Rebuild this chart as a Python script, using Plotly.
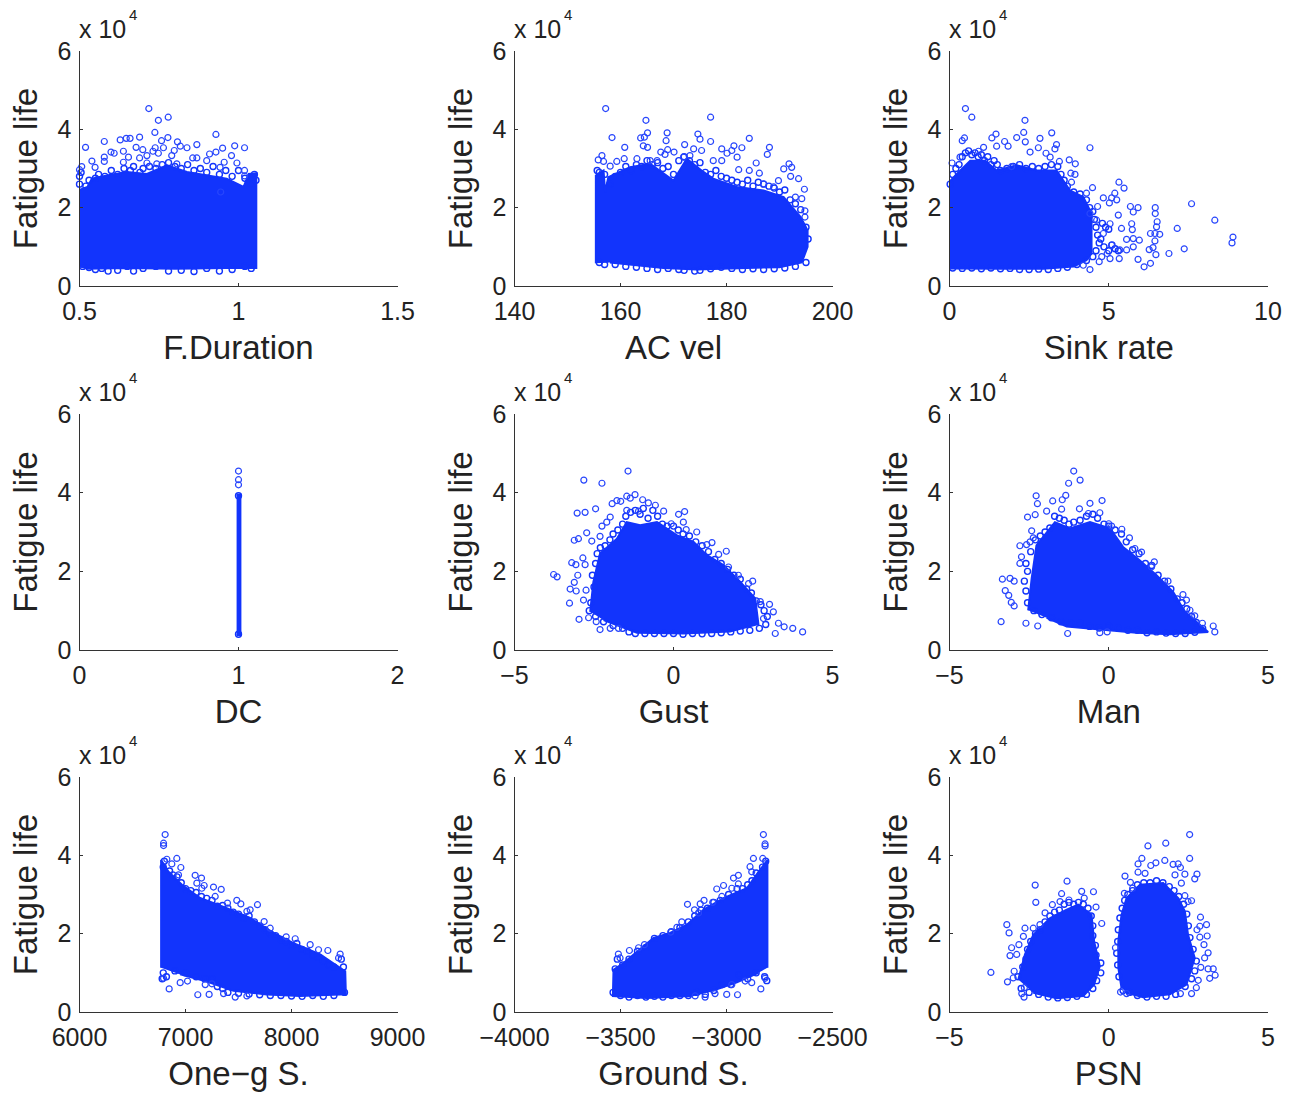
import plotly.graph_objects as go

# The *_x / *_y lists are the markers that can be told apart, and the *_rim lists
# are estimated markers along the edge of each cloud. The *_core lists trace the
# outline of the area where markers overlap into solid colour.

BLUE = "rgb(18,52,252)"
INK = "#222222"
FONT = "Liberation Sans, Arial, sans-serif"

xlabels = ["F.Duration", "AC vel", "Sink rate", "DC", "Gust", "Man", "One\u2212g S.", "Ground S.", "PSN"]
y_ticks = [0, 2, 4, 6]
x_tick_values = [[0.5, 1, 1.5], [140, 160, 180, 200], [0, 5, 10], [0, 1, 2], [-5, 0, 5], [-5, 0, 5],
                 [6000, 7000, 8000, 9000], [-4000, -3500, -3000, -2500], [-5, 0, 5]]

dur_x = [.718,.748,.779,.929,.737,.519,.578,.628,.647,.659,.689,.778,.808,.758,.678,.699,.638,.599,.609,.869,.838,.817,.764,.738,.712,.731,.748,.79,.798,.95,.988,1.019,.978,.929,.909,.856,.869,.9,.539,.578,.578,.549,.507,.5,.654,.638,.689,.712,.743,.806,.955,.995,.942,1.019,1.019,.944]
dur_y = [4.53,4.23,4.31,3.87,3.92,3.54,3.69,3.73,3.77,3.77,3.8,3.79,3.68,3.71,3.54,3.48,3.44,3.42,3.39,3.61,3.53,3.57,3.53,3.53,3.33,3.44,3.39,3.33,3.46,3.52,3.58,3.53,3.33,3.42,3.37,3.27,3.27,3.2,3.19,3.29,3.18,3.03,3.05,2.97,3.29,3.16,3.27,3.14,3.12,3.12,3.16,3.14,3.03,2.95,2.81,2.4]
dur_rim_x = [.5,.5,.505,.52,.53,.55,.56,.58,.6,.62,.64,.66,.67,.69,.7,.72,.74,.76,.78,.8,.82,.84,.86,.88,.9,.92,.94,.96,.98,1.0,1.02,1.04,1.05,1.055,.51,.53,.55,.57,.59,.62,.65,.67,.7,.74,.78,.82,.86,.9,.94,.98,1.02,1.04]
dur_rim_y = [2.6,2.8,2.9,2.55,2.7,2.75,2.85,2.8,2.95,2.85,3.0,2.95,3.05,2.9,3.0,3.05,3.0,3.1,3.15,3.05,3.0,3.1,2.95,3.0,2.9,3.05,2.85,2.95,2.8,2.95,2.75,2.6,2.85,2.7,.5,.47,.42,.45,.38,.4,.5,.38,.45,.5,.38,.4,.37,.45,.38,.42,.5,.45]
dur_core_x = [.495,.495,.525,.539,.586,.649,.712,.775,.838,.9,.963,1.016,1.032,1.056,1.056,.96,.8,.65,.52]
dur_core_y = [.48,2.44,2.53,2.74,2.82,2.91,2.86,3.08,2.91,2.82,2.74,2.53,2.86,2.88,.46,.46,.44,.46,.44]

vel_x = [157.2,164.8,177,165.1,163.8,164.5,158.4,168.8,168.6,174.6,175,177,184.3,160.8,164.3,165.1,172.1,181.4,182.9,188.1,187.7,179.1,181,180.1,182,173.8,175.3,173.1,168.9,170.1,167.6,168.4,156.5,155.8,156.8,158.05,159.3,160.7,163.1,165.6,166.9,171.9,177.5,179.1,182.3,185.6,184.3,186.2,190.8,191.8,192.3,192.1,193.6,189.8,194.7,193,194.2,194.8,194.8,187,188.9]
vel_y = [4.53,4.23,4.31,3.91,3.78,3.8,3.79,3.91,3.71,3.88,3.75,3.69,3.77,3.54,3.58,3.54,3.61,3.58,3.53,3.54,3.36,3.5,3.46,3.39,3.29,3.5,3.46,3.33,3.48,3.42,3.42,3.36,3.33,3.22,3.18,3.06,3.18,3.25,3.25,3.2,3.2,3.29,3.2,3.2,2.97,3.14,2.95,2.88,2.99,3.12,3.03,2.8,2.74,2.69,2.47,2.27,2.23,1.92,1.76,2.61,2.53]
vel_rim_x = [155.6,156,157,158,159,160,161,162,163,164,165,166,167,168,169,170,171,172,173,174,175,176,177,178,179,180,181,182,183,184,185,186,187,188,189,190,191,192,193,194,195,195.4,156,157,159,161,163,165,167,169,171,172,174,175,177,179,181,183,185,187,189,191,193,195]
vel_rim_y = [2.95,2.9,2.85,2.6,2.8,2.9,3.05,2.95,3.1,3.05,3.2,3.1,3.15,3.0,3.05,2.85,3.2,3.3,3.2,3.1,3.15,2.9,2.85,2.95,2.8,2.75,2.7,2.65,2.6,2.7,2.55,2.65,2.6,2.55,2.5,2.4,2.45,2.2,2.1,1.95,1.5,1.2,.6,.55,.55,.5,.48,.45,.42,.45,.42,.4,.38,.4,.44,.48,.45,.42,.44,.42,.44,.46,.5,.6]
vel_core_x = [155.35,155.35,156.8,157.1,157.7,161.8,165.6,170,172.5,175.3,177.5,182,187,190.8,191.8,194,195.3,195.3,194.2,190,183.8,174.4,168.1,161.8,158]
vel_core_y = [.58,2.82,2.95,2.4,2.78,3.03,3.12,2.69,3.25,2.95,2.74,2.53,2.44,2.27,2.1,1.76,1.42,1,.6,.48,.46,.42,.46,.54,.6]

sink_x = [.5,.7,2.37,3.21,2.33,2.11,1.46,1.33,.47,.4,2.84,1.73,2.38,1.84,1.48,3.36,3.31,4.41,2.79,2.53,3.03,3.16,3.45,3.76,3.95,3.81,3.94,3.83,1.07,.91,.08,.33,1.95,5.32,5.48,7.6,5.19,4.49,4.3,4.83,5.09,5.25,5.02,4.65,5.68,5.92,5.77,6.46,6.46,5.3,5.72,5.74,6.52,6.5,8.33,7.15,6.31,6.6,6.45,8.9,8.87,6.45,7.37,6.39,6.27,6.89,6.48,5.92,6.31,6.11,5.33,5.77,5.56,5.96,5.77,5.56,5.35,5.09,4.95,4.7,4.41,4.2,4.83,5.04,5.4,4.78,5.04,4.62,4.41]
sink_y = [4.53,4.31,4.23,3.91,3.92,3.79,3.88,3.78,3.78,3.71,3.77,3.69,3.68,3.57,3.57,3.61,3.5,3.53,3.53,3.42,3.39,3.29,3.18,3.22,3.12,2.88,2.85,2.65,3.54,3.44,3.14,3.29,3.05,2.65,2.5,2.1,2.37,2.51,2.37,2.25,2.25,2.2,2.12,2.03,2.03,2,1.89,2,1.85,1.81,1.59,1.44,1.64,1.51,1.68,1.47,1.34,1.32,1.34,1.25,1.1,1.15,.95,.98,.93,.83,.8,.68,.58,.49,.7,1.21,1.19,1.17,1,.92,.92,1.04,.83,.62,.42,.53,1.34,1.59,1.47,.75,.7,1.68,1.85]
sink_rim_x = [.02,.1,.2,.3,.4,.5,.6,.7,.8,.9,1,1.1,1.2,1.3,1.4,1.5,1.6,1.8,2,2.2,2.4,2.6,2.8,3,3.2,3.4,3.5,3.6,3.7,3.9,4.1,4.3,4.4,4.5,4.55,4.6,4.65,4.7,4.6,4.5,4.3,4,3.7,3.4,3.1,2.8,2.5,2.2,1.9,1.6,1.3,1,.7,.4,.1,4.8,4.9,5,4.75,4.85,5.1,5.2,5.3,5]
sink_rim_y = [2.6,2.85,3,3.1,3.3,3.4,3.45,3.35,3.4,3.3,3.35,3.2,3.3,3.1,3.2,3.1,2.95,3,3.05,3.1,3,3.05,3,3.05,3.1,3.05,2.85,2.7,2.55,2.4,2.35,2.2,2,1.9,1.7,1.5,1.3,1.1,.9,.75,.65,.55,.48,.45,.42,.43,.42,.42,.45,.44,.46,.44,.46,.45,.46,1.6,1.5,1.45,1.2,1,1.05,.95,.9,.9]
sink_core_x = [-.06,-.06,.23,.65,1.12,1.48,2.11,2.74,3.36,3.78,4.2,4.46,4.46,4.3,3.9,2.95,1.69,.02]
sink_core_y = [.5,2.61,2.86,3.2,3.2,2.95,3.08,2.95,2.95,2.44,2.27,1.85,.83,.66,.5,.44,.44,.45]

dc_x = [1, 1, 1]
dc_y = [4.55, 4.33, 4.2]
dc_rim_x = [1, 1]
dc_rim_y = [3.92, .4]
dc_core_x = [.988, 1.012, 1.012, .988]
dc_core_y = [.38, .38, 3.95, 3.95]

gust_x = [-1.43,-2.82,-2.25,-3.03,-2.78,-2.45,-1.47,-1.21,-1.36,-.97,-.79,-.57,-1.66,-1.93,-1.78,-.31,.16,.35,-1.47,-1.1,-1.99,-2.1,-2.25,-2.73,-2.99,-3.12,-2.57,-2.31,.73,.4,.31,-.07,1.21,1.05,1.66,1.42,1.73,2.04,2.49,2.36,-3.2,-3.07,-2.85,-2.78,-3.77,-3.66,-3.01,-3.12,-3.25,-3.06,-2.75,-2.83,-3.27,-2.97,-2.67,-2.43,-2.31,-1.99,-1.73,3.02,2.73,3.14,3.3,3.48,3.75,4.06,3.2,2.83]
gust_y = [4.55,4.32,4.24,3.48,3.5,3.59,3.91,3.95,3.86,3.82,3.74,3.68,3.78,3.72,3.8,3.53,3.45,3.52,3.55,3.53,3.38,3.25,3.15,2.98,2.83,2.79,2.77,2.89,3,3.06,3.25,3.21,2.73,2.68,2.51,2.43,2.11,1.9,1.75,1.69,2.22,2.17,2.34,2.17,1.92,1.86,1.9,1.72,1.55,1.5,1.52,1.27,1.19,.78,.82,.72,.52,.55,.55,1.16,1.23,.97,.68,.59,.55,.46,.42,.8]
gust_rim_x = [-2.6,-2.5,-2.55,-2.45,-2.4,-2.3,-2.15,-2,-1.9,-1.75,-1.6,-1.5,-1.35,-1.2,-1.05,-.95,-.8,-.65,-.5,-.35,-.2,0,.15,.3,.5,.7,.9,1.1,1.3,1.5,1.7,1.9,2.1,2.3,2.45,2.6,2.75,2.85,2.95,2.9,2.7,2.4,2.1,1.8,1.5,1.2,.9,.6,.3,0,-.3,-.6,-.9,-1.2,-1.4,-1.6,-1.9,-2.2,-2.45,-2.65]
gust_rim_y = [1.2,1.6,1.9,2.2,2.45,2.6,2.65,2.8,2.95,3.05,3.2,3.4,3.5,3.55,3.45,3.6,3.35,3.55,3.4,3.2,3.15,3.15,3.05,2.95,2.9,2.75,2.65,2.5,2.3,2.2,2.05,1.9,1.8,1.55,1.45,1.25,1.15,1,.85,.65,.55,.5,.48,.46,.44,.42,.41,.42,.4,.42,.42,.42,.42,.42,.46,.55,.62,.72,.85,1]
gust_core_x = [-2.62,-2.52,-2.31,-1.78,-1.47,-1.05,-.52,.1,.63,1.05,1.57,2.1,2.57,2.67,1.78,.31,-1.15,-1.68,-2.2]
gust_core_y = [.97,1.73,2.45,2.83,3.25,3.17,3.25,2.92,2.75,2.41,2.16,1.73,1.31,.66,.47,.42,.44,.6,.76]

man_x = [-1.1,-1.26,-.9,-2.28,-1.35,-1.46,-1.76,-2.24,-.59,-.21,-.92,-.28,-2.31,-2.55,-1.95,-1.48,-.64,-2.42,-2.37,-2.79,-2.58,-2.47,-2.74,-2.79,-3.34,-3.1,-2.97,-3.25,-3.14,-3.06,-2.97,-3.38,-2.6,-2.23,-1.29,-.28,-.05,.41,.65,0,.09,.82,1.03,1.43,1.34,1.86,2.33,2.44,2.7,2.94,3.28,3.33,2.55]
man_y = [4.55,4.24,4.32,3.92,3.93,3.82,3.79,3.72,3.73,3.8,3.59,3.49,3.44,3.38,3.53,3.58,3.47,3.03,2.85,2.65,2.68,2.75,2.37,2.2,1.8,1.82,1.75,1.51,1.39,1.21,1.12,.72,.68,.61,.42,.44,.46,3.07,2.85,3.21,3.15,2.58,2.49,2.24,2.11,1.75,1.41,1.27,.87,.68,.61,.46,1.01]
man_rim_x = [-2.55,-2.6,-2.65,-2.55,-2.6,-2.45,-2.3,-2.15,-2,-1.85,-1.7,-1.55,-1.4,-1.25,-1.1,-.9,-.7,-.5,-.35,-.15,0,.2,.4,.55,.75,.95,1.15,1.35,1.55,1.75,1.95,2.15,2.3,2.45,2.6,2.75,2.95,2.7,2.4,2.1,1.8,1.5,1.2,.9,.6,.3,0,-.3,-.6,-.9,-1.2,-1.5,-1.8,-2.1,-2.35]
man_rim_y = [1.2,1.5,1.75,2,2.2,2.5,2.8,2.9,3,3.1,3.4,3.35,3.3,3.2,3.25,3.3,3.4,3.45,3.35,3.2,3.15,3.05,2.95,2.75,2.55,2.45,2.2,2.15,1.9,1.75,1.55,1.3,1.2,1.05,.85,.7,.55,.45,.42,.42,.43,.46,.44,.5,.5,.56,.6,.56,.6,.68,.68,.72,.82,.9,1]
man_core_x = [-2.53,-2.42,-2.27,-1.69,-1.22,-.59,.04,.45,.97,1.5,2.02,2.39,3.12,1.92,.87,-.38,-1.32,-1.95]
man_core_y = [1.01,1.82,2.66,3.25,3.09,3.25,3.09,2.62,2.28,1.9,1.48,.97,.46,.4,.44,.54,.6,.82]

oneg_x = [6808,6793,6793,6918,6871,6824,6956,6934,7091,7151,7107,7176,7264,7337,7154,7280,7484,7396,7522,7679,7610,7579,7742,7799,7950,8035,8176,8255,8343,8459,8444,6846,6793,6950,7019,7116,7223,7186,7249,7359,7469,7579]
oneg_y = [4.53,4.31,4.25,3.92,3.78,3.9,3.69,3.5,3.49,3.42,3.29,3.23,3.19,3.13,3.16,2.95,2.85,2.78,2.76,2.74,2.61,2.57,2.31,2.14,1.92,1.87,1.72,1.59,1.57,1.48,1.38,.59,.86,.75,.79,.44,.45,.7,.72,.47,.38,.41]
oneg_rim_x = [6790,6800,6850,6880,6920,6960,7000,7050,7100,7150,7200,7250,7300,7350,7400,7450,7500,7550,7600,7650,7700,7750,7800,7850,7900,7950,8000,8050,8100,8150,8200,8250,8300,8350,8400,8470,8490,8500,8400,8300,8200,8100,8000,7900,7800,7700,7600,7500,7400,7350,7300,7250,7180,7100,7000,6900,6820,6790,6780]
oneg_rim_y = [3.7,3.85,3.6,3.5,3.45,3.3,3.15,3.1,3.05,2.95,2.9,2.85,2.7,2.72,2.65,2.55,2.5,2.4,2.45,2.3,2.2,2.1,2,1.95,1.85,1.8,1.7,1.75,1.6,1.55,1.45,1.4,1.3,1.2,1.15,1.35,1.15,.5,.42,.4,.42,.4,.41,.42,.42,.44,.46,.48,.5,.6,.65,.85,.85,.9,1,1.05,.9,1,.85]
oneg_core_x = [6770,6770,6840,6966,7138,7390,7610,7830,8019,8271,8412,8507,8513,8082,7767,7453,7201,6950]
oneg_core_y = [1.13,3.88,3.58,3.25,2.91,2.65,2.4,2.02,1.76,1.47,1.21,1.04,.45,.41,.45,.54,.78,.96]

ground_x = [-2826,-2818,-2818,-2873,-2829,-2889,-2881,-2944,-2967,-2944,-3014,-3046,-2975,-3022,-3106,-3065,-3124,-3184,-3151,-3132,-3211,-3234,-3263,-3387,-3415,-3458,-3510,-3502,-2838,-2818,-2881,-2912,-2948,-2999,-2975,-3054,-3101,-3148]
ground_y = [4.53,4.29,4.24,3.92,3.92,3.71,3.58,3.49,3.42,3.27,3.23,3.14,3.16,2.95,2.85,2.8,2.76,2.75,2.61,2.53,2.3,2.16,2.04,1.72,1.64,1.57,1.48,1.38,.59,.86,.75,.79,.44,.45,.7,.47,.38,.41]
ground_rim_x = [-2815,-2830,-2860,-2880,-2900,-2925,-2950,-2990,-3030,-3060,-3090,-3120,-3150,-3180,-3220,-3260,-3300,-3340,-3380,-3420,-3460,-3490,-3515,-3525,-3535,-3500,-3460,-3420,-3380,-3340,-3300,-3260,-3220,-3180,-3140,-3100,-3060,-3020,-2980,-2940,-2900,-2860,-2820,-2810]
ground_rim_y = [3.85,3.7,3.55,3.35,3.25,3.15,3.15,3,2.85,2.8,2.65,2.6,2.45,2.3,2.15,2.05,1.95,1.88,1.65,1.55,1.35,1.2,1.35,1.1,.5,.42,.38,.42,.38,.4,.38,.42,.42,.42,.5,.45,.55,.7,.7,.95,.85,1,.9,.8]
ground_core_x = [-2807,-2807,-2849,-2904,-3014,-3109,-3187,-3266,-3344,-3455,-3486,-3533,-3536,-3376,-3172,-3046,-2951,-2849]
ground_core_y = [1.13,3.88,3.58,3.16,2.91,2.61,2.23,2.02,1.89,1.38,1.25,1.08,.41,.36,.41,.58,.76,1]

psn_x = [-3.7,-3.2,-3.13,-3.18,-2.31,-2.29,-1.31,-1.48,-.85,-.48,-.77,-.4,-.22,-1.77,-2,-2.16,-2.37,-2.63,-2.68,-2.82,-3.05,-3.1,-2.89,-2.97,-3,-2.65,-2.73,-2.66,-1.25,-1.53,
         2.54,1.79,1.23,2.54,1.04,1.76,.92,1.32,1.48,2.02,2.18,2.25,.92,1.14,.51,2.77,2.7,2.39,2.08,.68,.75,.49,2.28,2.39,2.6,2.49,2.88,3.07,2.86,2.77,2.86,3.09,2.99,3.12,3.01,2.89,3.12,3.28,3.34,3.17,2.81,2.75,2.6,2.25,.21,.37,.56]
psn_y = [1.01,2.23,2.02,.77,3.24,2.8,3.34,3.02,3.08,3.07,2.91,2.68,2.26,2.74,2.53,2.23,2.14,2.14,1.93,1.72,1.64,1.44,1.47,1.04,.87,.62,.47,.38,2.86,2.82,
         4.53,4.31,4.24,3.92,3.92,3.87,3.78,3.74,3.81,3.77,3.78,3.69,3.57,3.54,3.47,3.52,3.4,3.52,3.5,3.31,3.16,3.03,3.29,2.97,2.84,2.82,2.42,2.23,2.19,2.1,1.91,1.94,1.72,1.51,1.38,1.14,1.1,1.1,.94,.86,.81,.62,.47,.47,1.64,.51,.47]
psn_rim_x = [-2.75,-2.85,-2.7,-2.6,-2.55,-2.45,-2.3,-2.15,-2,-1.85,-1.7,-1.55,-1.4,-1.25,-1.1,-.95,-.8,-.65,-.55,-.5,-.5,-.42,-.4,-.25,-.25,-.38,-.5,-.7,-1,-1.3,-1.6,-1.9,-2.2,-2.5,
             .32,.28,.25,.28,.3,.35,.42,.5,.6,.75,.9,1.1,1.3,1.5,1.7,1.9,2.05,2.2,2.35,2.45,2.5,2.55,2.65,2.75,2.7,2.6,2.4,2.1,1.8,1.5,1.2,.9,.65,.45]
psn_rim_y = [.6,.9,1.15,1.35,1.6,1.8,2,2.1,2.3,2.45,2.55,2.6,2.75,2.8,2.75,2.8,2.75,2.65,2.45,2.2,1.95,1.7,1.45,1.25,1,.8,.6,.45,.4,.37,.36,.38,.45,.5,
             .9,1.2,1.5,1.8,2.1,2.4,2.65,2.85,3,3.1,3.25,3.3,3.3,3.35,3.3,3.2,3.1,2.95,2.75,2.5,2.2,1.9,1.6,1.3,1.05,.85,.65,.45,.4,.4,.38,.42,.5,.55]
psn_left_core_x = [-2.84,-2.63,-2.37,-1.84,-1.32,-.96,-.54,-.46,-.28,-.46,-.8,-1.64,-2.37]
psn_left_core_y = [.83,1.47,1.97,2.4,2.61,2.74,2.48,1.81,1.17,.7,.41,.35,.49]
psn_right_core_x = [.4,.3,.3,.4,.56,.98,1.71,2.18,2.39,2.49,2.7,2.44,1.92,1.08,.56]
psn_right_core_y = [.62,1.13,1.81,2.48,2.91,3.25,3.29,2.91,2.57,1.97,1.38,.7,.45,.38,.49]

panel_points = [(dur_x, dur_y), (vel_x, vel_y), (sink_x, sink_y), (dc_x, dc_y), (gust_x, gust_y),
                (man_x, man_y), (oneg_x, oneg_y), (ground_x, ground_y), (psn_x, psn_y)]
panel_rims = [(dur_rim_x, dur_rim_y), (vel_rim_x, vel_rim_y), (sink_rim_x, sink_rim_y), (dc_rim_x, dc_rim_y),
              (gust_rim_x, gust_rim_y), (man_rim_x, man_rim_y), (oneg_rim_x, oneg_rim_y),
              (ground_rim_x, ground_rim_y), (psn_rim_x, psn_rim_y)]
panel_cores = [[(dur_core_x, dur_core_y)], [(vel_core_x, vel_core_y)], [(sink_core_x, sink_core_y)],
               [(dc_core_x, dc_core_y)], [(gust_core_x, gust_core_y)], [(man_core_x, man_core_y)],
               [(oneg_core_x, oneg_core_y)], [(ground_core_x, ground_core_y)],
               [(psn_left_core_x, psn_left_core_y), (psn_right_core_x, psn_right_core_y)]]

W, H = 1300, 1093
lefts = [(79.5, 397.5), (514.5, 832.5), (949.5, 1268)]
rows = [(51, 286), (414, 650), (777, 1012)]

fig = go.Figure()
layout = {}
annotations = []
for i in range(9):
    n = i + 1
    col, row = i % 3, i // 3
    xa, ya = f"x{n}", f"y{n}"
    for cx, cy in panel_cores[i]:
        fig.add_trace(go.Scatter(x=cx, y=cy, xaxis=xa, yaxis=ya, mode="lines", fill="toself",
                                 fillcolor=BLUE, line=dict(color=BLUE, width=2), cliponaxis=False,
                                 hoverinfo="skip", showlegend=False))
    rx, ry = panel_rims[i]
    fig.add_trace(go.Scatter(x=rx, y=ry, xaxis=xa, yaxis=ya, mode="markers", cliponaxis=False,
                             marker=dict(symbol="circle-open", size=6, color=BLUE, line=dict(width=1.4)),
                             hoverinfo="skip", showlegend=False))
    px, py = panel_points[i]
    fig.add_trace(go.Scatter(x=px, y=py, xaxis=xa, yaxis=ya, mode="markers", cliponaxis=False,
                             marker=dict(symbol="circle-open", size=6, color="rgb(40,70,252)", line=dict(width=1.2)),
                             showlegend=False))
    xt = x_tick_values[i]
    common = dict(showgrid=False, zeroline=False, showline=True, linecolor="#333333", linewidth=1,
                  ticks="inside", ticklen=3, tickcolor="#333333", tickwidth=1, automargin=False,
                  tickfont=dict(family=FONT, size=25, color=INK), title_font=dict(family=FONT, size=33, color=INK))
    layout[f"xaxis{n}"] = dict(domain=[lefts[col][0] / W, lefts[col][1] / W], anchor=ya,
                               range=[xt[0], xt[-1]], tickvals=xt, ticktext=[str(v).replace("-", "\u2212") for v in xt],
                               ticklabelstandoff=3, title=dict(text=xlabels[i], standoff=11), **common)
    layout[f"yaxis{n}"] = dict(domain=[1 - rows[row][1] / H, 1 - rows[row][0] / H], anchor=xa,
                               range=[0, 6], tickvals=y_ticks, ticklabelstandoff=2,
                               title=dict(text="Fatigue life", standoff=10), **common)
    annotations.append(dict(xref="paper", yref="paper", x=lefts[col][0] / W, y=1 - rows[row][0] / H,
                            xanchor="left", yanchor="bottom", xshift=-3, yshift=6, showarrow=False,
                            text="x 10", font=dict(family=FONT, size=25, color=INK)))
    annotations.append(dict(xref="paper", yref="paper", x=lefts[col][0] / W, y=1 - rows[row][0] / H,
                            xanchor="left", yanchor="bottom", xshift=47, yshift=26, showarrow=False,
                            text="4", font=dict(family=FONT, size=15, color=INK)))

fig.update_layout(width=W, height=H, margin=dict(l=0, r=0, t=0, b=0), paper_bgcolor="white",
                  plot_bgcolor="white", showlegend=False, annotations=annotations, **layout)
fig.write_html("out.html", config=dict(displayModeBar=False),
               post_script="document.body.style.margin='0';document.documentElement.style.overflow='hidden';")
